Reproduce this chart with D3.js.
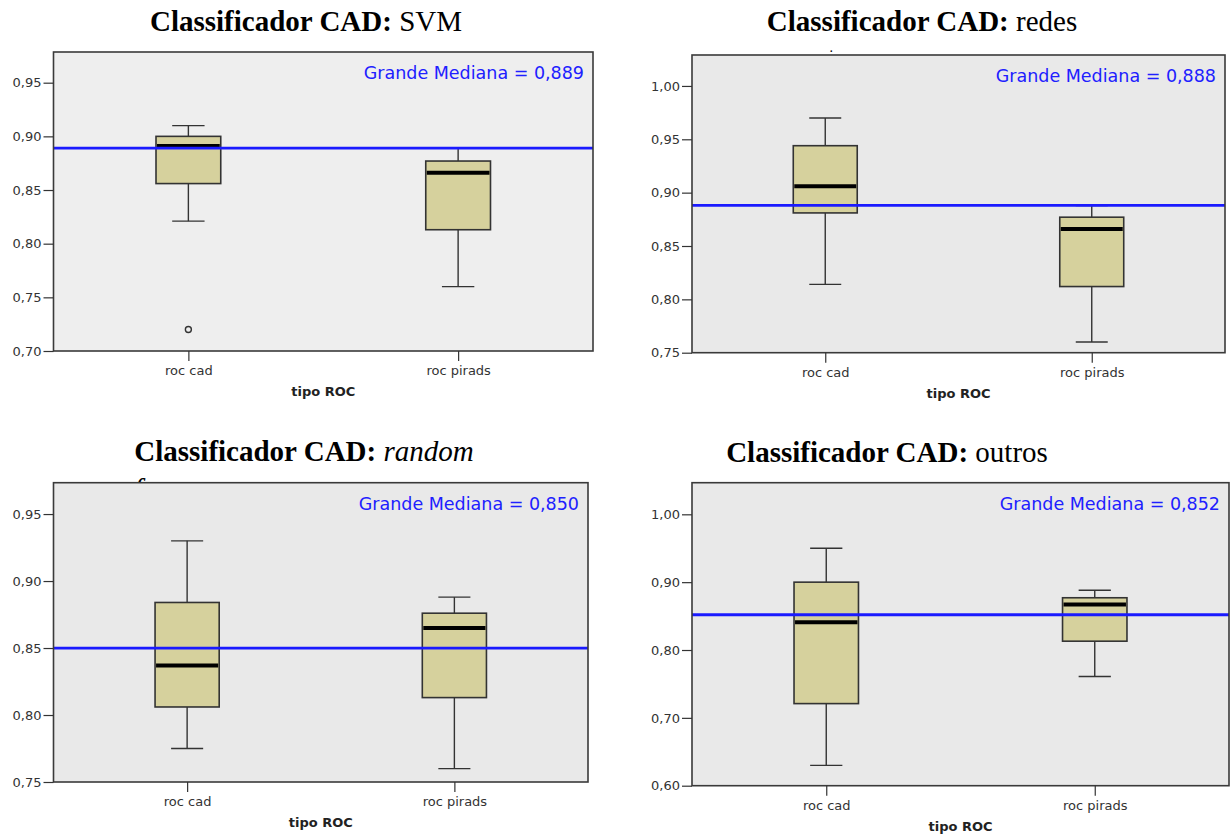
<!DOCTYPE html>
<html>
  <head>
    <script src="https://d3js.org/d3.v7.min.js"></script>
    <style>
        body { margin: 0; background: #fff; }
        .axis text { font: 13px "DejaVu Sans", sans-serif; fill: #333; }
        .axis.x text { font-size: 13px; }
        .axis line { stroke: #333; stroke-width: 1.2px; }
        .axis path { display: none; }
        .title { font-family: "Liberation Serif", "Times New Roman", serif; font-size: 29px; fill: #000; }
        .xlabel { font: bold 13px "DejaVu Sans", sans-serif; fill: #222; text-anchor: middle; }
        .gm-label { font: 17.5px "DejaVu Sans", sans-serif; fill: #2020ff; text-anchor: end; }
    </style>
  </head>
  <body>
    <svg width="1232" height="836"></svg>
    <script>
        // categories on the x axis
        const categories = ["roc cad", "roc pirads"];

        // panel titles: bold part, normal part, italic?
        const titles = [
            {bold: "Classificador CAD: ", rest: "SVM", italic: false},
            {bold: "Classificador CAD: ", rest: "redes", italic: false},
            {bold: "Classificador CAD: ", rest: "random", italic: true},
            {bold: "Classificador CAD: ", rest: "outros", italic: false}
        ];

        // box statistics per panel: [low whisker, Q1, median, Q3, high whisker]
        const svmBoxes = [
            {cat: "roc cad", lo: 0.821, q1: 0.856, med: 0.891, q3: 0.900, hi: 0.910, out: [0.720]},
            {cat: "roc pirads", lo: 0.760, q1: 0.813, med: 0.866, q3: 0.877, hi: 0.889, out: []}
        ];
        const redesBoxes = [
            {cat: "roc cad", lo: 0.814, q1: 0.881, med: 0.906, q3: 0.944, hi: 0.970, out: []},
            {cat: "roc pirads", lo: 0.760, q1: 0.812, med: 0.866, q3: 0.877, hi: 0.888, out: []}
        ];
        const randomBoxes = [
            {cat: "roc cad", lo: 0.775, q1: 0.806, med: 0.837, q3: 0.884, hi: 0.930, out: []},
            {cat: "roc pirads", lo: 0.760, q1: 0.813, med: 0.865, q3: 0.876, hi: 0.888, out: []}
        ];
        const outrosBoxes = [
            {cat: "roc cad", lo: 0.630, q1: 0.721, med: 0.841, q3: 0.900, hi: 0.950, out: []},
            {cat: "roc pirads", lo: 0.761, q1: 0.813, med: 0.867, q3: 0.877, hi: 0.888, out: []}
        ];

        // grand median per panel
        const grandMedians = [0.889, 0.888, 0.850, 0.852];

        // y axis tick values per panel
        const svmTicks = [0.70, 0.75, 0.80, 0.85, 0.90, 0.95];
        const redesTicks = [0.75, 0.80, 0.85, 0.90, 0.95, 1.00];
        const randomTicks = [0.75, 0.80, 0.85, 0.90, 0.95];
        const outrosTicks = [0.60, 0.70, 0.80, 0.90, 1.00];

        // y domains (axis extent of each panel)
        const yDomains = [[0.70, 0.9786], [0.75, 1.029], [0.75, 0.9734], [0.60, 1.0466]];

        // layout of each panel (pixels)
        const panels = [
            {l: 53.5, t: 52, r: 593, b: 351, titleX: 306, titleY: 31, bg: "#eeeeee"},
            {l: 692, t: 55, r: 1225, b: 352.7, titleX: 922, titleY: 31, bg: "#e9e9e9"},
            {l: 53.5, t: 482.7, r: 588, b: 782, titleX: 304, titleY: 461, bg: "#e9e9e9"},
            {l: 692, t: 482.7, r: 1229, b: 785.7, titleX: 887, titleY: 462, bg: "#e9e9e9"}
        ];

        const allBoxes = [svmBoxes, redesBoxes, randomBoxes, outrosBoxes];
        const allTicks = [svmTicks, redesTicks, randomTicks, outrosTicks];

        const svg = d3.select("svg");
        const fmt = v => d3.format(".2f")(v).replace(".", ",");

        // leftover second-line title fragments, hidden behind the plot frames
        svg.append("text")
            .attr("class", "title")
            .attr("x", 134)
            .attr("y", 499)
            .style("font-style", "italic")
            .text("forest");
        svg.append("text")
            .attr("x", 830)
            .attr("y", 52)
            .style("font", "bold 10px 'Liberation Serif', serif")
            .text(".");

        panels.forEach((p, i) => {
            const boxes = allBoxes[i];
            const w = p.r - p.l, h = p.b - p.t;

            const x = d3.scalePoint()
                .domain(categories)
                .range([p.l, p.r])
                .padding(0.5);

            const y = d3.scaleLinear()
                .domain(yDomains[i])
                .range([p.b, p.t]);

            const g = svg.append("g");

            // Title
            const t = g.append("text")
                .attr("class", "title")
                .attr("x", p.titleX)
                .attr("y", p.titleY)
                .attr("text-anchor", "middle");
            t.append("tspan").style("font-weight", "bold").text(titles[i].bold);
            t.append("tspan")
                .style("font-style", titles[i].italic ? "italic" : "normal")
                .text(titles[i].rest);

            // plot background
            g.append("rect")
                .attr("x", p.l)
                .attr("y", p.t)
                .attr("width", w)
                .attr("height", h)
                .style("fill", p.bg);

            const boxW = w * 0.12;

            const bx = g.selectAll(".box")
                .data(boxes)
                .enter().append("g")
                .attr("class", "box");

            // whisker lines
            bx.append("line")
                .attr("x1", d => x(d.cat))
                .attr("x2", d => x(d.cat))
                .attr("y1", d => y(d.hi))
                .attr("y2", d => y(d.q3))
                .style("stroke", "#333")
                .style("stroke-width", 1.4);
            bx.append("line")
                .attr("x1", d => x(d.cat))
                .attr("x2", d => x(d.cat))
                .attr("y1", d => y(d.q1))
                .attr("y2", d => y(d.lo))
                .style("stroke", "#333")
                .style("stroke-width", 1.4);

            // whisker caps
            ["hi", "lo"].forEach(k => {
                bx.append("line")
                    .attr("x1", d => x(d.cat) - boxW / 4)
                    .attr("x2", d => x(d.cat) + boxW / 4)
                    .attr("y1", d => y(d[k]))
                    .attr("y2", d => y(d[k]))
                    .style("stroke", "#333")
                    .style("stroke-width", 1.4);
            });

            // box
            bx.append("rect")
                .attr("x", d => x(d.cat) - boxW / 2)
                .attr("y", d => y(d.q3))
                .attr("width", boxW)
                .attr("height", d => y(d.q1) - y(d.q3))
                .style("fill", "#d6d19d")
                .style("stroke", "#333")
                .style("stroke-width", 1.6);

            // median
            bx.append("line")
                .attr("x1", d => x(d.cat) - boxW / 2 + 1)
                .attr("x2", d => x(d.cat) + boxW / 2 - 1)
                .attr("y1", d => y(d.med))
                .attr("y2", d => y(d.med))
                .style("stroke", "#000")
                .style("stroke-width", 4);

            // outliers
            bx.selectAll(".outlier")
                .data(d => d.out.map(v => ({cat: d.cat, v: v})))
                .enter().append("circle")
                .attr("class", "outlier")
                .attr("cx", d => x(d.cat))
                .attr("cy", d => y(d.v))
                .attr("r", 3)
                .style("fill", "none")
                .style("stroke", "#333")
                .style("stroke-width", 1.4);

            // grand median line
            g.append("line")
                .attr("x1", p.l)
                .attr("x2", p.r)
                .attr("y1", y(grandMedians[i]))
                .attr("y2", y(grandMedians[i]))
                .style("stroke", "#1a1aff")
                .style("stroke-width", 2.8);

            g.append("text")
                .attr("class", "gm-label")
                .attr("x", p.r - 9)
                .attr("y", p.t + 27)
                .text("Grande Mediana = " + d3.format(".3f")(grandMedians[i]).replace(".", ","));

            // frame
            g.append("rect")
                .attr("x", p.l)
                .attr("y", p.t)
                .attr("width", w)
                .attr("height", h)
                .style("fill", "none")
                .style("stroke", "#3a3a3a")
                .style("stroke-width", 1.6);

            // axes
            g.append("g")
                .attr("class", "axis y")
                .attr("transform", `translate(${p.l},0)`)
                .call(d3.axisLeft(y).tickValues(allTicks[i]).tickSize(10).tickPadding(2).tickFormat(fmt));

            g.append("g")
                .attr("class", "axis x")
                .attr("transform", `translate(0,${p.b})`)
                .call(d3.axisBottom(x).tickSize(10).tickPadding(5));

            g.append("text")
                .attr("class", "xlabel")
                .attr("x", (p.l + p.r) / 2)
                .attr("y", p.b + 45)
                .text("tipo ROC");
        });
    </script>
  </body>
</html>
